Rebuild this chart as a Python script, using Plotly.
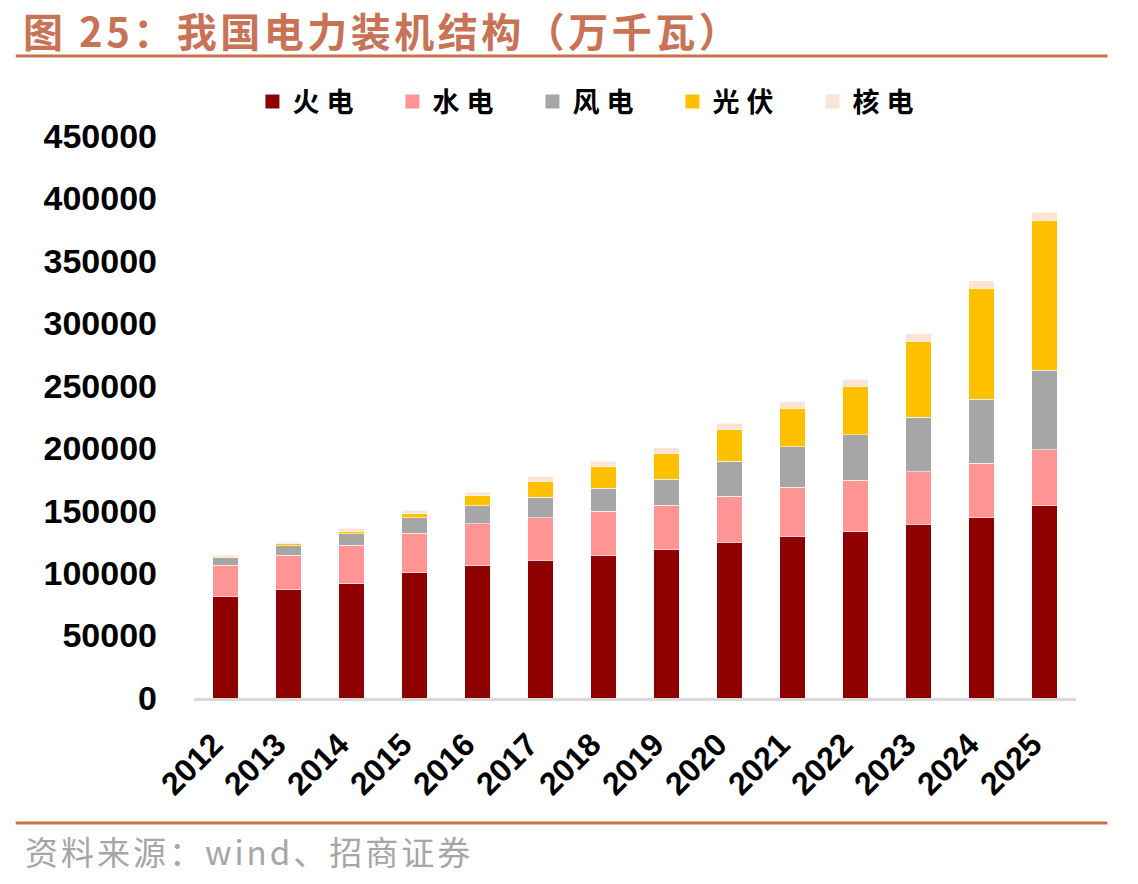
import plotly.graph_objects as go

years = ["2012", "2013", "2014", "2015", "2016", "2017", "2018",
         "2019", "2020", "2021", "2022", "2023", "2024", "2025"]
thermal = [81000, 86600, 91400, 100200, 105800, 110400, 113800,
           118600, 124600, 129400, 133000, 139000, 144200, 153800]
hydro = [25400, 27800, 30800, 31600, 33600, 33800, 35600,
         35800, 36800, 39200, 41400, 42000, 43600, 44800]
wind = [6000, 7400, 9200, 12400, 14400, 16600, 18400,
        20800, 28000, 32400, 36200, 43800, 51600, 64000]
solar = [500, 1600, 2200, 3200, 8000, 12800, 17200,
         20200, 25200, 31200, 39200, 61000, 88800, 120000]
nuclear = [1300, 1400, 2400, 2800, 3000, 3800, 4600,
           5000, 5200, 5200, 5600, 5700, 6100, 6200]

series = [("火电", thermal, "#8F0000"),
          ("水电", hydro, "#FF9494"),
          ("风电", wind, "#A6A6A6"),
          ("光伏", solar, "#FFC000"),
          ("核电", nuclear, "#FBE4D6")]

fig = go.Figure()
for name, vals, col in series:
    fig.add_trace(go.Bar(
        x=years, y=vals, name=name, showlegend=False, legendgroup=name,
        marker=dict(color=col, line=dict(color="rgba(255,255,255,0.55)", width=1)),
    ))
# legend entries (square swatches)
for name, vals, col in series:
    fig.add_trace(go.Scatter(
        x=[None], y=[None], mode="markers", legendgroup=name,
        name='<span style="letter-spacing:7px">' + name + '</span>',
        marker=dict(symbol="square", size=14, color=col),
    ))

# plot area in pixels
L, R, T, B = 193.5, 1076.5, 136, 698
W, H = 1138, 884
pw, ph = R - L, B - T

def px(x):
    return (x - L) / pw

def py(y):
    return (B - y) / ph

title_col = "#C87355"
fig.update_layout(
    width=W, height=H,
    margin=dict(l=L, r=W - R, t=T, b=H - B, pad=0),
    paper_bgcolor="white", plot_bgcolor="white",
    barmode="stack", bargap=0.6,
    showlegend=True,
    legend=dict(
        orientation="h", x=px(252), xanchor="left", y=py(102), yanchor="middle",
        font=dict(family="Noto Sans CJK SC", size=27, color="black", weight="bold"),
        entrywidth=95, entrywidthmode="pixels", itemsizing="trace",
        traceorder="normal", bgcolor="rgba(0,0,0,0)",
    ),
    xaxis=dict(
        type="category", tickangle=-45, showgrid=False,
        showline=True, linecolor="#D9D9D9", linewidth=3,
        ticks="", ticklabelstandoff=12, ticklabelshift=-12,
        tickfont=dict(family="Liberation Sans, Arial", size=32, color="black", weight="bold"),
    ),
    yaxis=dict(
        range=[0, 450000], dtick=50000, tickformat="d",
        showgrid=False, zeroline=False, showline=False,
        ticks="", ticklabelstandoff=36,
        tickfont=dict(family="Liberation Sans, Arial", size=34, color="black", weight="bold"),
    ),
    shapes=[
        dict(type="line", xref="paper", yref="paper", x0=px(15), x1=px(1108),
             y0=py(56), y1=py(56), line=dict(color="#C8714F", width=3)),
        dict(type="line", xref="paper", yref="paper", x0=px(15), x1=px(1108),
             y0=py(823), y1=py(823), line=dict(color="#C8714F", width=3)),
    ],
    annotations=[
        dict(text='<span style="letter-spacing:3.5px">图 25：我国电力装机结构（万千瓦）</span>',
             xref="paper", yref="paper",
             x=px(20), y=py(30), xanchor="left", yanchor="middle", showarrow=False,
             font=dict(family="Noto Sans CJK SC", size=40, color=title_col, weight="bold")),
        dict(text='<span style="letter-spacing:3px">资料来源：wind、招商证券</span>',
             xref="paper", yref="paper",
             x=px(22), y=py(851), xanchor="left", yanchor="middle", showarrow=False,
             font=dict(family="Noto Sans CJK SC", size=33, color="#A6A6A6")),
    ],
)

fig.write_html("out.html")
